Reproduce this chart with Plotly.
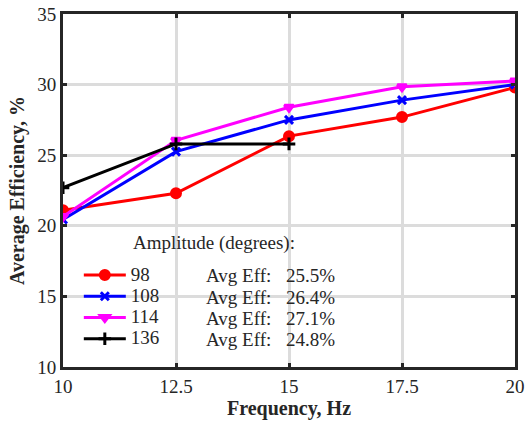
import plotly.graph_objects as go

# Frequency sweep (Hz) and measured average efficiency (%) per flapping amplitude
freq = [10, 12.5, 15, 17.5, 20]
freq_136 = [10, 12.5, 15]

eff_98 = [21.1, 22.3, 26.35, 27.7, 29.8]
eff_108 = [20.45, 25.25, 27.5, 28.9, 30.0]
eff_114 = [20.65, 26.05, 28.4, 29.85, 30.25]
eff_136 = [22.7, 25.8, 25.8]

amplitudes = ["98", "108", "114", "136"]
avg_eff = ["25.5%", "26.4%", "27.1%", "24.8%"]

x_ticks = [10, 12.5, 15, 17.5, 20]
x_tick_text = ["10", "12.5", "15", "17.5", "20"]
y_ticks = [10, 15, 20, 25, 30, 35]

FONT = "Liberation Serif, Times New Roman, serif"
INK = "#262626"
TXT = 19

series = [
    (freq, eff_98, amplitudes[0], "#ff0000", "circle", 9),
    (freq, eff_108, amplitudes[1], "#0000ff", "x-thin", 8),
    (freq, eff_114, amplitudes[2], "#ff00ff", "triangle-down", 8),
    (freq_136, eff_136, amplitudes[3], "#000000", "cross-thin", 9),
]

fig = go.Figure()
for xs, ys, name, color, symbol, size in series:
    fig.add_trace(go.Scatter(
        x=xs, y=ys, mode="lines+markers",
        name=f"<span style='font-size:{TXT}px'>{name}</span>",
        line=dict(color=color, width=3),
        marker=dict(symbol=symbol, size=size, color=color,
                    line=dict(color=color, width=3)),
    ))

axis_common = dict(
    showgrid=True, gridcolor="#dcdcdc", gridwidth=2.5,
    showline=True, linecolor=INK, linewidth=3, mirror="ticks",
    ticks="inside", ticklen=4, tickwidth=3, tickcolor=INK,
    tickfont=dict(family=FONT, size=TXT, color=INK),
    zeroline=False, automargin=False,
)

fig.update_xaxes(
    range=[10, 20], tickvals=x_ticks, ticktext=x_tick_text,
    title=dict(text="<b>Frequency, Hz</b>", font=dict(family=FONT, size=20, color=INK), standoff=4),
    **axis_common,
)
fig.update_yaxes(
    range=[10, 35], tickvals=y_ticks,
    title=dict(text="<b>Average Efficiency, %</b>", font=dict(family=FONT, size=20, color=INK), standoff=8),
    **axis_common,
)

# Legend heading and per-amplitude average efficiency columns
annotations = [dict(
    xref="paper", yref="paper", x=0.334, y=0.351, xanchor="center", yanchor="middle",
    text="Amplitude (degrees):", showarrow=False,
    font=dict(family=FONT, size=TXT, color=INK),
)]
row_y = [0.2606, 0.1983, 0.1388, 0.0793]
for yy, val in zip(row_y, avg_eff):
    annotations.append(dict(
        xref="paper", yref="paper", x=0.312, y=yy, xanchor="left", yanchor="middle",
        text="Avg Eff:", showarrow=False, font=dict(family=FONT, size=TXT, color=INK),
    ))
    annotations.append(dict(
        xref="paper", yref="paper", x=0.488, y=yy, xanchor="left", yanchor="middle",
        text=val, showarrow=False, font=dict(family=FONT, size=TXT, color=INK),
    ))

fig.update_layout(
    width=531, height=423,
    margin=dict(l=63, r=16, t=14, b=56),
    paper_bgcolor="white", plot_bgcolor="white",
    showlegend=True,
    legend=dict(
        x=0.035, y=0.17, xanchor="left", yanchor="middle",
        bgcolor="rgba(0,0,0,0)", borderwidth=0,
        font=dict(family=FONT, size=14, color=INK),
        tracegroupgap=0, itemwidth=42,
    ),
    annotations=annotations,
)

fig.write_html("out.html")
